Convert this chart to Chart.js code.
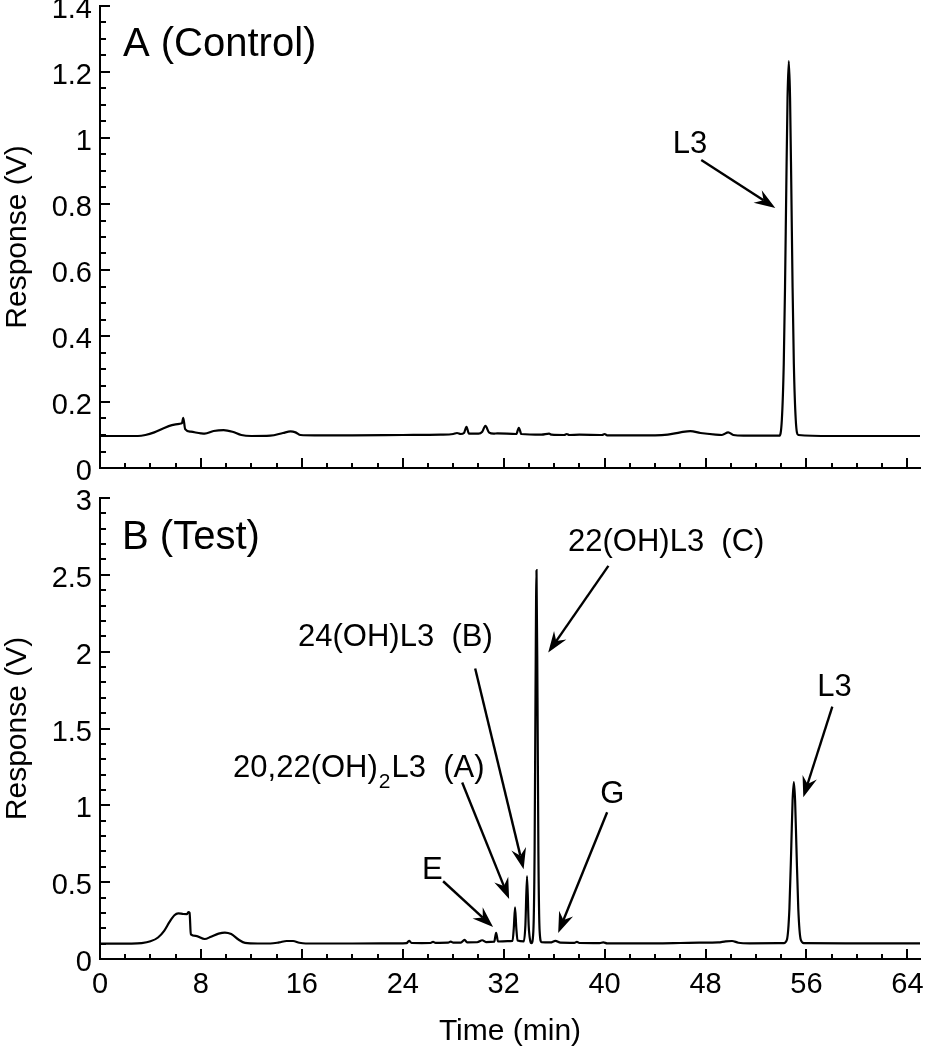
<!DOCTYPE html>
<html>
<head>
<meta charset="utf-8">
<script src="https://cdn.jsdelivr.net/npm/chart.js@4.4.0/dist/chart.umd.min.js"></script>
<style>
  body { margin: 0; background: #fff; }
  canvas { display: block; }
</style>
</head>
<body>
<canvas id="control" width="925" height="480"></canvas>
<canvas id="test" width="925" height="570"></canvas>
<script>
// retention time (min) and detector response (V)
var controlTime = [0, 3.0, 3.6, 4.3, 5.0, 5.7, 6.3, 6.5, 6.6, 6.75, 7.2, 8.0, 8.3, 9.0, 9.8, 10.5, 11.2, 12.0,
  13.5, 14.5, 15.1, 15.5, 15.9, 17.0, 20.0, 24.0, 27.0, 28.0, 28.3, 28.6, 28.85, 29.05, 29.25, 30.0, 30.3,
  30.55, 30.85, 31.2, 31.5, 33.0, 33.2, 33.4, 35.0, 35.6, 35.8, 36.8, 37.0, 37.2, 38.0, 39.8, 40.0, 40.2,
  44.0, 45.0, 46.0, 46.8, 47.6, 48.8, 49.3, 49.8, 50.2, 51.0, 53.85, 54.05, 54.2, 54.3, 54.4, 54.5, 54.6,
  54.7, 54.8, 54.9, 55.0, 55.15, 55.35, 58.0, 65.0];
var controlResponse = [0.097, 0.097, 0.100, 0.108, 0.120, 0.130, 0.134, 0.136, 0.152, 0.118, 0.110, 0.105,
  0.104, 0.112, 0.115, 0.110, 0.100, 0.097, 0.098, 0.106, 0.111, 0.108, 0.100, 0.099, 0.099, 0.100, 0.101,
  0.103, 0.106, 0.103, 0.106, 0.125, 0.104, 0.104, 0.110, 0.128, 0.107, 0.104, 0.105, 0.103, 0.122, 0.103,
  0.101, 0.104, 0.101, 0.100, 0.103, 0.100, 0.101, 0.100, 0.103, 0.099, 0.099, 0.101, 0.108, 0.112, 0.106,
  0.101, 0.100, 0.108, 0.100, 0.098, 0.098, 0.147, 0.315, 0.546, 0.847, 1.122, 1.233, 1.122, 0.847, 0.546,
  0.315, 0.147, 0.100, 0.097, 0.097];

var testTime = [0, 2.5, 3.3, 4.0, 4.6, 5.1, 5.5, 5.9, 6.2, 6.6, 6.9, 7.0, 7.1, 7.2, 7.6, 8.3, 8.8, 9.4, 9.9,
  10.4, 11.0, 11.5, 12.5, 13.5, 14.2, 14.8, 15.3, 15.8, 16.3, 20.0, 24.0, 24.3, 24.5, 24.7, 25.5, 26.2, 26.4,
  26.6, 27.6, 27.8, 28.0, 28.6, 28.9, 29.1, 29.9, 30.3, 30.6, 31.25, 31.4, 31.55, 32.3, 32.7, 32.8, 32.9,
  33.0, 33.1, 33.6, 33.72, 33.85, 33.98, 34.1, 34.2, 34.35, 34.45, 34.52, 34.6, 34.68, 34.75, 34.85, 35.0,
  35.7, 36.1, 36.5, 37.6, 37.8, 38.0, 39.6, 39.9, 40.2, 44.0, 46.0, 47.5, 49.0, 49.6, 50.1, 50.6, 51.5,
  54.2, 54.45, 54.65, 54.8, 54.9, 55.0, 55.1, 55.2, 55.35, 55.55, 55.8, 60.0, 65.0];
var testResponse = [0.100, 0.100, 0.103, 0.115, 0.140, 0.185, 0.240, 0.285, 0.297, 0.293, 0.292, 0.305,
  0.300, 0.160, 0.150, 0.130, 0.145, 0.165, 0.172, 0.162, 0.125, 0.105, 0.101, 0.101, 0.108, 0.117, 0.117,
  0.106, 0.101, 0.101, 0.102, 0.103, 0.118, 0.104, 0.103, 0.104, 0.112, 0.105, 0.106, 0.113, 0.106, 0.107,
  0.125, 0.108, 0.109, 0.122, 0.110, 0.113, 0.170, 0.114, 0.116, 0.118, 0.200, 0.336, 0.200, 0.120, 0.115,
  0.220, 0.540, 0.220, 0.120, 0.103, 0.180, 0.700, 1.700, 2.530, 1.700, 0.700, 0.180, 0.110, 0.108, 0.118,
  0.106, 0.105, 0.112, 0.104, 0.103, 0.108, 0.102, 0.102, 0.104, 0.106, 0.108, 0.115, 0.117, 0.106, 0.102,
  0.103, 0.125, 0.330, 0.740, 1.030, 1.152, 1.030, 0.740, 0.330, 0.125, 0.103, 0.102, 0.102];

var timeTicks = [0, 8, 16, 24, 32, 40, 48, 56, 64];
var controlTicks = [0, 0.2, 0.4, 0.6, 0.8, 1, 1.2, 1.4];
var testTicks = [0, 0.5, 1, 1.5, 2, 2.5, 3];

// labels and arrows, anchored in data units (time, response)
var controlNotes = [
  { text: 'A (Control)', at: [1.82, 1.25], big: true },
  { text: 'L3', at: [45.4, 0.955], from: [47.66, 0.933], to: [53.53, 0.788] }
];
var testNotes = [
  { text: 'B (Test)', at: [1.75, 2.67], big: true },
  { text: '22(OH)L3  (C)', at: [37.1, 2.656], from: [40.3, 2.558], to: [35.53, 1.994] },
  { text: '24(OH)L3  (B)', at: [15.7, 2.039], from: [29.74, 1.89], to: [33.58, 0.584] },
  { text: '20,22(OH)', sub: '2', after: 'L3  (A)', at: [10.55, 1.182], from: [28.71, 1.149], to: [32.43, 0.39] },
  { text: 'E', at: [25.53, 0.519], from: [27.2, 0.506], to: [31.16, 0.208] },
  { text: 'G', at: [39.65, 1.013], from: [40.2, 0.955], to: [36.32, 0.169] },
  { text: 'L3', at: [56.86, 1.714], from: [58.05, 1.643], to: [55.75, 1.052] }
];

var FONT = "'Liberation Sans', Arial, sans-serif";
Chart.defaults.color = '#000';
Chart.defaults.font.family = FONT;

function points(t, v) {
  return t.map(function (x, i) { return { x: x, y: v[i] }; });
}

function drawArrow(ctx, x1, y1, x2, y2) {
  var a = Math.atan2(y2 - y1, x2 - x1);
  var len = 21, half = 7.5, notch = 14;
  ctx.beginPath();
  ctx.moveTo(x1, y1);
  ctx.lineTo(x2 - Math.cos(a) * notch, y2 - Math.sin(a) * notch);
  ctx.stroke();
  ctx.save();
  ctx.translate(x2, y2);
  ctx.rotate(a);
  ctx.beginPath();
  ctx.moveTo(0, 0);
  ctx.lineTo(-len, -half);
  ctx.lineTo(-notch, 0);
  ctx.lineTo(-len, half);
  ctx.closePath();
  ctx.fill();
  ctx.restore();
}

// inward tick marks plus the text labels and arrows
var decorate = {
  id: 'decorate',
  afterDraw: function (chart) {
    var o = chart.options.plugins.decorate;
    var ctx = chart.ctx, xs = chart.scales.x, ys = chart.scales.y;
    ctx.save();
    ctx.strokeStyle = '#000';
    ctx.fillStyle = '#000';
    ctx.lineWidth = 2;
    ctx.beginPath();
    for (var i = 0; i <= 32; i++) {
      var px = Math.round(xs.getPixelForValue(i * 2));
      ctx.moveTo(px, ys.bottom);
      ctx.lineTo(px, ys.bottom - (i % 4 === 0 ? 10 : 5));
    }
    var n = Math.round(o.yMax / o.yMinor);
    for (var j = 0; j <= n; j++) {
      var py = Math.round(ys.getPixelForValue(j * o.yMinor));
      ctx.moveTo(xs.left, py);
      ctx.lineTo(xs.left + (j % o.yEvery === 0 ? 10 : 6), py);
    }
    ctx.stroke();

    ctx.lineWidth = 2.4;
    ctx.textBaseline = 'alphabetic';
    o.notes.forEach(function (nt) {
      var tx = xs.getPixelForValue(nt.at[0]), ty = ys.getPixelForValue(nt.at[1]);
      ctx.font = (nt.big ? 40 : 31) + 'px ' + FONT;
      ctx.fillText(nt.text, tx, ty);
      if (nt.sub) {
        var w = ctx.measureText(nt.text).width;
        ctx.font = '21px ' + FONT;
        ctx.fillText(nt.sub, tx + w + 1, ty + 11);
        var ws = ctx.measureText(nt.sub).width;
        ctx.font = '31px ' + FONT;
        ctx.fillText(nt.after, tx + w + ws + 2, ty);
      }
      if (nt.from) {
        drawArrow(ctx, xs.getPixelForValue(nt.from[0]), ys.getPixelForValue(nt.from[1]),
          xs.getPixelForValue(nt.to[0]), ys.getPixelForValue(nt.to[1]));
      }
    });
    ctx.restore();
  }
};

function makeChart(id, t, v, yMax, yTicks, yMinor, yEvery, notes, showTime, pad, xHeight) {
  return new Chart(document.getElementById(id).getContext('2d'), {
    type: 'line',
    data: {
      datasets: [{
        data: points(t, v),
        borderColor: '#000',
        borderWidth: 2.2,
        pointRadius: 0,
        fill: false,
        cubicInterpolationMode: 'monotone'
      }]
    },
    options: {
      responsive: false,
      animation: false,
      devicePixelRatio: 1,
      layout: { padding: { top: pad, right: 5, left: 0, bottom: 0 } },
      plugins: {
        legend: { display: false },
        tooltip: { enabled: false },
        decorate: { notes: notes, yMax: yMax, yMinor: yMinor, yEvery: yEvery }
      },
      scales: {
        x: {
          type: 'linear',
          min: 0,
          max: 65,
          grid: { display: false, drawTicks: false },
          border: { display: true, color: '#000', width: 2 },
          ticks: { display: showTime, padding: 9, font: { size: 29 }, callback: function (val) { return String(val); } },
          title: { display: showTime, text: 'Time (min)', font: { size: 30 }, padding: { top: 0, bottom: 0 } },
          afterBuildTicks: function (s) { s.ticks = timeTicks.map(function (x) { return { value: x }; }); },
          afterFit: function (s) {
            s.height = xHeight;
            s.paddingLeft = 0; s.paddingRight = 0; s.paddingTop = 0; s.paddingBottom = 0;
          }
        },
        y: {
          type: 'linear',
          min: 0,
          max: yMax,
          grid: { display: false, drawTicks: false },
          border: { display: true, color: '#000', width: 2 },
          ticks: { padding: 8, labelOffset: 4, font: { size: 29 }, callback: function (val) { return String(val); } },
          title: { display: true, text: 'Response (V)', font: { size: 30 }, padding: { top: 0, bottom: 0 } },
          afterBuildTicks: function (s) { s.ticks = yTicks.map(function (y) { return { value: y }; }); },
          afterFit: function (s) {
            s.width = 100;
            s.paddingLeft = 0; s.paddingRight = 0; s.paddingTop = 0; s.paddingBottom = 0;
          }
        }
      }
    },
    plugins: [decorate]
  });
}

makeChart('control', controlTime, controlResponse, 1.4, controlTicks, 0.05, 4, controlNotes, false, 6, 12);
makeChart('test', testTime, testResponse, 3, testTicks, 0.1, 5, testNotes, true, 18, 91);
</script>
</body>
</html>
